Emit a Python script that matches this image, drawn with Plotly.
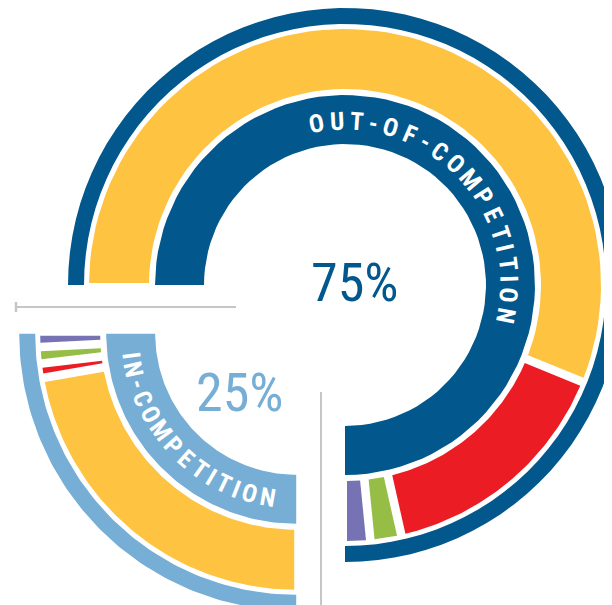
import numpy as np
import plotly.graph_objects as go

# ---------------- data ----------------
piece_names = ["OUT-OF-COMPETITION", "IN-COMPETITION"]
piece_share = [75, 25]                      # % of all tests
piece_labels = ["75%", "25%"]
segment_names = ["Segment 1", "Segment 2", "Segment 3", "Segment 4"]
out_values = [74.9, 20.4, 2.6, 2.1]         # % within out-of-competition
in_values = [89.0, 3.6, 4.1, 3.3]           # % within in-competition

# ---------------- style ----------------
segment_colors = ["#FDC341", "#EC1C24", "#96BD45", "#7772B4"]
piece_colors = ["#02578C", "#76AED6"]
W, H = 612, 605
PAGE_OFF = 8               # default page margin of the html body
CX, CY = 345, 285          # centre of the main piece (page px)
START = -90                # compass angle where the first piece begins
EXPLODE = [0, 69]          # px offset of each piece along its bisector
R_IN = (141, 190)
R_COL = (196, 256)
R_OUT = (261, 277)
GAP = 4.3                  # half gap between segments (px)
END_GAP = 2.0
FONT = "Roboto Condensed, DejaVu Sans Condensed, sans-serif"
GREY = "#C6C6C6"


def pt(cx, cy, r, a):
    t = np.radians(a)
    return cx + r * np.sin(t), cy - r * np.cos(t)


def sector(cx, cy, a1, a2, r1, r2, h1=0.0, h2=0.0, n=80):
    xs, ys = [], []
    s2 = a1 + np.degrees(np.arcsin(h1 / r2)); e2 = a2 - np.degrees(np.arcsin(h2 / r2))
    s1 = a1 + np.degrees(np.arcsin(h1 / r1)); e1 = a2 - np.degrees(np.arcsin(h2 / r1))
    for a in np.linspace(s2, e2, n):
        x, y = pt(cx, cy, r2, a); xs.append(x); ys.append(y)
    for a in np.linspace(e1, s1, n):
        x, y = pt(cx, cy, r1, a); xs.append(x); ys.append(y)
    xs.append(xs[0]); ys.append(ys[0])
    return xs, ys


fig = go.Figure()
annotations = []

piece_values = [out_values, in_values]
a0 = START
centers = []
for k, share in enumerate(piece_share):
    span = share / 100 * 360
    a1, a2 = a0, a0 + span
    mid = (a1 + a2) / 2
    ex, ey = pt(0, 0, EXPLODE[k], mid)
    cx, cy = CX + ex, CY + ey
    centers.append((cx, cy, a1, a2))
    col = piece_colors[k]
    for rr in (R_OUT, R_IN):
        xs, ys = sector(cx, cy, a1, a2, rr[0], rr[1])
        fig.add_trace(go.Scatter(x=xs, y=ys, mode="lines", fill="toself", fillcolor=col,
                                 line=dict(width=0), hoverinfo="text",
                                 hovertext=f"{piece_names[k]} {piece_labels[k]}", showlegend=False))
    vals = piece_values[k]
    tot = sum(vals)
    b = a1
    for j, v in enumerate(vals):
        e = b + v / tot * span
        h1 = END_GAP if j == 0 else GAP
        h2 = END_GAP if j == len(vals) - 1 else GAP
        xs, ys = sector(cx, cy, b, e, R_COL[0], R_COL[1], h1, h2)
        fig.add_trace(go.Scatter(x=xs, y=ys, mode="lines", fill="toself",
                                 fillcolor=segment_colors[j], line=dict(width=0),
                                 hoverinfo="text",
                                 hovertext=f"{piece_names[k]}: {segment_names[j]} {v}%",
                                 showlegend=False))
        b = e
    a0 = a2

# ---------------- curved labels ----------------
WID = {"I": 0.55, "-": 0.7, "M": 1.15}
text_arcs = [(-10.0, 100.6, 164.0, 1), (262.5, 190.0, 166.5, -1)]
for k, (s, e, r, orient) in enumerate(text_arcs):
    cx, cy = centers[k][0], centers[k][1]
    txt = piece_names[k]
    w = [WID.get(c, 1.0) for c in txt]
    pos = [0.0]
    for i in range(1, len(txt)):
        pos.append(pos[-1] + (w[i - 1] + w[i]) / 2)
    pos = np.array(pos) / pos[-1]
    for c, p in zip(txt, pos):
        a = s + (e - s) * p
        x, y = pt(cx, cy, r, a)
        ang = a if orient == 1 else a - 180
        annotations.append(dict(x=x, y=y, xref="x", yref="y", text=f"<b>{c}</b>",
                                showarrow=False, textangle=ang,
                                xanchor="center", yanchor="middle",
                                font=dict(family=FONT, size=25, color="white")))

# percentage labels
label_offsets = [(10, -3), (-56, 59)]
for k, lab in enumerate(piece_labels):
    cx, cy = centers[k][0], centers[k][1]
    annotations.append(dict(x=cx + label_offsets[k][0], y=cy + label_offsets[k][1],
                            xref="x", yref="y", text=lab, showarrow=False,
                            xanchor="center", yanchor="middle",
                            font=dict(family=FONT, size=54, color=piece_colors[k])))

shapes = [
    dict(type="line", x0=16, x1=236, y0=307, y1=307, xref="x", yref="y",
         line=dict(color=GREY, width=2)),
    dict(type="line", x0=16, x1=16, y0=302, y1=312, xref="x", yref="y",
         line=dict(color=GREY, width=2.5)),
    dict(type="line", x0=321, x1=321, y0=392, y1=620, xref="x", yref="y",
         line=dict(color=GREY, width=2)),
]

fig.update_layout(
    width=W, height=H, margin=dict(l=0, r=0, t=0, b=0),
    paper_bgcolor="white", plot_bgcolor="white",
    xaxis=dict(range=[PAGE_OFF, W + PAGE_OFF], visible=False, fixedrange=True),
    yaxis=dict(range=[H + PAGE_OFF, PAGE_OFF], visible=False, fixedrange=True),
    annotations=annotations, shapes=shapes, showlegend=False,
)
fig.write_html("out.html")
